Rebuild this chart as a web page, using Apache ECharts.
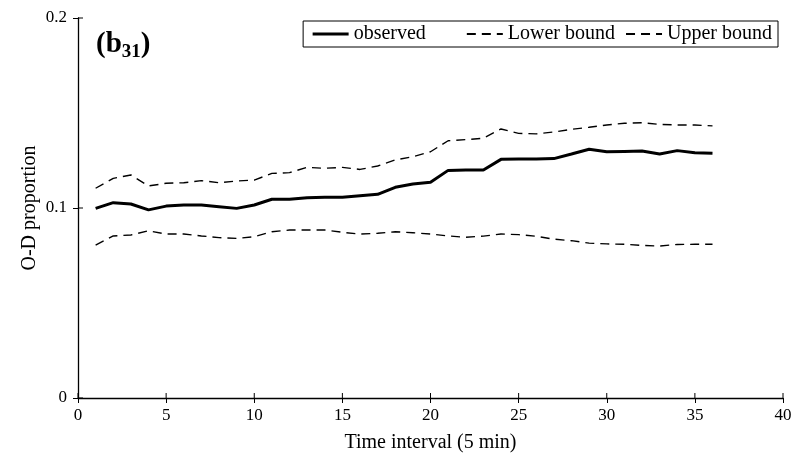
<!DOCTYPE html>
<html>
<head>
<meta charset="utf-8">
<script src="https://cdn.jsdelivr.net/npm/echarts@6/dist/echarts.min.js"></script>
<style>html,body{margin:0;padding:0;background:#fff;}#c{width:798px;height:466px;}</style>
</head>
<body>
<div id="c"></div>
<script>
const intervals = [1,2,3,4,5,6,7,8,9,10,11,12,13,14,15,16,17,18,19,20,21,22,23,24,25,26,27,28,29,30,31,32,33,34,35,36];
const observed = [0.0998,0.1028,0.1021,0.0990,0.1010,0.1016,0.1016,0.1007,0.0998,0.1016,0.1046,0.1046,0.1054,0.1056,0.1056,0.1065,0.1072,0.1109,0.1126,0.1135,0.1198,0.1200,0.1200,0.1256,0.1258,0.1258,0.1260,0.1284,0.1309,0.1296,0.1298,0.1300,0.1284,0.1302,0.1291,0.1288];
const lowerBound = [0.0805,0.0853,0.0858,0.0880,0.0863,0.0863,0.0853,0.0844,0.0840,0.0849,0.0875,0.0884,0.0884,0.0884,0.0872,0.0863,0.0867,0.0875,0.0870,0.0863,0.0853,0.0846,0.0852,0.0863,0.0860,0.0851,0.0836,0.0828,0.0815,0.0811,0.0809,0.0803,0.0800,0.0808,0.0809,0.0809];
const upperBound = [0.1104,0.1156,0.1174,0.1116,0.1130,0.1133,0.1144,0.1133,0.1142,0.1147,0.1182,0.1186,0.1214,0.1209,0.1214,0.1203,0.1221,0.1253,0.1270,0.1296,0.1354,0.1360,0.1367,0.1416,0.1393,0.1390,0.1400,0.1414,0.1425,0.1437,0.1446,0.1449,0.1440,0.1437,0.1437,0.1432];
const seriesNames = ['observed','Lower bound','Upper bound'];
const xTicks = [0,5,10,15,20,25,30,35,40];
const yTicks = [0,0.1,0.2];
const xTitle = 'Time interval (5 min)';
const yTitle = 'O-D proportion';

const font = '"Liberation Serif","Times New Roman",serif';
const pair = arr => intervals.map((x,i)=>[x,arr[i]]);

const chart = echarts.init(document.getElementById('c'), null, {renderer:'canvas'});
const dash = [9,6];

function innerTick(horizontal){
  return function(params, api){
    const p = horizontal ? api.coord([api.value(0), 0]) : api.coord([0, api.value(1)]);
    return {
      type:'line',
      shape: horizontal ? {x1:p[0], y1:p[1], x2:p[0], y2:p[1]-5} : {x1:p[0], y1:p[1], x2:p[0]+5, y2:p[1]},
      style:{stroke:'#000', lineWidth:1}
    };
  };
}

chart.setOption({
  backgroundColor:'#fff',
  animation:false,
  grid:{left:78, right:15, top:18, bottom:68},
  legend:{
    data:[
      {name:seriesNames[0], lineStyle:{width:3}},
      {name:seriesNames[1]},
      {name:seriesNames[2]}
    ],
    right:20, top:21, padding:[3,6,3,8],
    borderColor:'#000', borderWidth:1, itemGap:10, itemWidth:36, itemHeight:12,
    itemStyle:{color:'rgba(0,0,0,0)', borderColor:'rgba(0,0,0,0)', borderWidth:0},
    formatter: function(name){ return name === 'observed' ? name + '\u2003\u2002' : name; },
    textStyle:{fontFamily:font, fontSize:20, color:'#000'}
  },
  xAxis:{
    type:'value', min:0, max:40, interval:5,
    name:xTitle, nameLocation:'middle', nameGap:35,
    nameTextStyle:{fontFamily:font, fontSize:20, color:'#000'},
    axisLine:{lineStyle:{color:'#000', width:1.3}},
    axisTick:{show:true, length:5, lineStyle:{color:'#000'}},
    axisLabel:{fontFamily:font, fontSize:17, color:'#000', margin:9},
    splitLine:{show:false}
  },
  yAxis:{
    type:'value', min:0, max:0.2, interval:0.1,
    name:yTitle, nameLocation:'middle', nameGap:38, nameMoveOverlap:false,
    nameTextStyle:{fontFamily:font, fontSize:20, color:'#000'},
    axisLine:{show:true, lineStyle:{color:'#000', width:1.3}},
    axisTick:{show:true, length:5, lineStyle:{color:'#000'}},
    axisLabel:{fontFamily:font, fontSize:17, color:'#000', margin:11},
    splitLine:{show:false}
  },
  graphic:[{
    type:'text', left:96, top:30,
    style:{
      text:'{m|(b}{s|31}{m|)}',
      rich:{
        m:{fontFamily:font, fontSize:29, fontWeight:'bold', fill:'#000'},
        s:{fontFamily:font, fontSize:19, fontWeight:'bold', fill:'#000', padding:[15,0,0,0]}
      }
    }
  }],
  series:[
    {name:seriesNames[0], type:'line', data:pair(observed), symbol:'none', lineStyle:{color:'#000', width:3}, itemStyle:{color:'#000'}},
    {name:seriesNames[1], type:'line', data:pair(lowerBound), symbol:'none', lineStyle:{color:'#000', width:1.4, type:dash}, itemStyle:{color:'#000'}},
    {name:seriesNames[2], type:'line', data:pair(upperBound), symbol:'none', lineStyle:{color:'#000', width:1.4, type:dash}, itemStyle:{color:'#000'}},
    {name:'xticks', type:'custom', silent:true, clip:false, data:xTicks.map(v=>[v,0]), renderItem:innerTick(true)},
    {name:'yticks', type:'custom', silent:true, clip:false, data:yTicks.map(v=>[0,v]), renderItem:innerTick(false)}
  ]
});
</script>
</body>
</html>
